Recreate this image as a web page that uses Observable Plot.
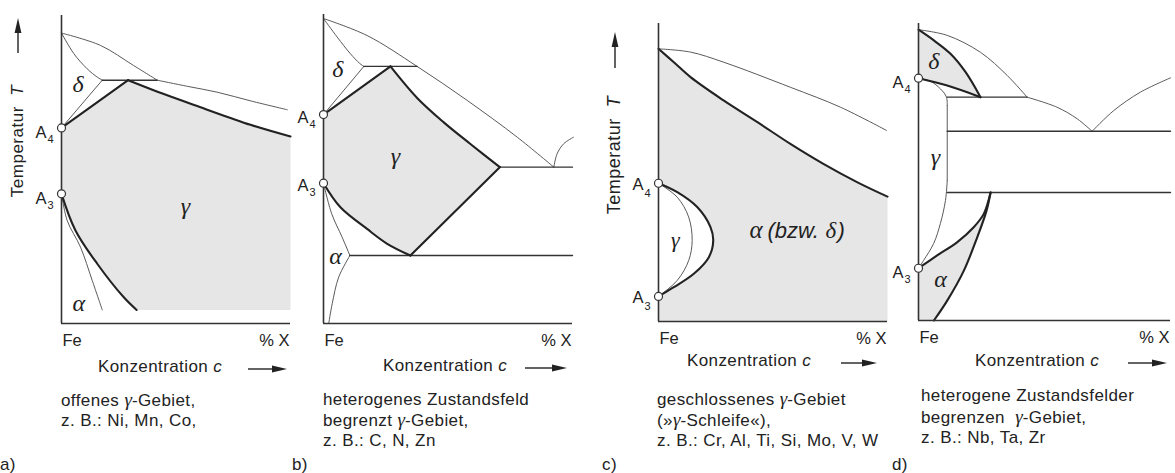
<!DOCTYPE html>
<html><head><meta charset="utf-8">
<script src="https://cdn.jsdelivr.net/npm/d3@7"></script>
<script src="https://cdn.jsdelivr.net/npm/@observablehq/plot@0.6"></script>
<style>
body{margin:0;background:#fff;}
#fig{position:relative;width:1175px;height:473px;overflow:hidden;font-family:"Liberation Sans",Arial,sans-serif;color:#222;}
.t{position:absolute;font-size:17px;line-height:20px;white-space:nowrap;letter-spacing:0.4px;}
.g{font-family:"Liberation Serif",serif;font-style:italic;font-size:19px;letter-spacing:0;}
.i{font-style:italic;}
.ylab{position:absolute;font-size:17px;line-height:20px;white-space:nowrap;letter-spacing:0.5px;transform:translate(-50%,-50%) rotate(-90deg);}
svg.arr{position:absolute;overflow:visible;}
</style></head><body>
<div id="fig">
  <div class="ylab" style="left:18px;top:141px">Temperatur&nbsp; <span class="i">T</span></div>
  <div class="ylab" style="left:614px;top:155px;font-size:18px">Temperatur&nbsp; <span class="i">T</span></div>

  <div class="t" style="left:98px;top:357px">Konzentration&nbsp;<span class="i">c</span></div>
  <div class="t" style="left:383px;top:356px">Konzentration&nbsp;<span class="i">c</span></div>
  <div class="t" style="left:687px;top:351px">Konzentration&nbsp;<span class="i">c</span></div>
  <div class="t" style="left:975px;top:351px">Konzentration&nbsp;<span class="i">c</span></div>

  <div class="t" style="left:61px;top:390px">offenes <span class="g">γ</span>-Gebiet,<br>z. B.: Ni, Mn, Co,</div>
  <div class="t" style="left:323px;top:390px">heterogenes Zustandsfeld<br>begrenzt <span class="g">γ</span>-Gebiet,<br>z. B.: C, N, Zn</div>
  <div class="t" style="left:657px;top:389px">geschlossenes <span class="g">γ</span>-Gebiet<br>(»<span class="g">γ</span>-Schleife«),<br>z. B.: Cr, Al, Ti, Si, Mo, V, W</div>
  <div class="t" style="left:921px;top:386px;line-height:20.5px">heterogene Zustandsfelder<br>begrenzen&nbsp; <span class="g">γ</span>-Gebiet,<br>z. B.: Nb, Ta, Zr</div>

  <div class="t" style="left:0px;top:455px">a)</div>
  <div class="t" style="left:292px;top:455px">b)</div>
  <div class="t" style="left:602px;top:455px">c)</div>
  <div class="t" style="left:892px;top:455px">d)</div>
</div>
<script>
// ---- Data: c = concentration (% of axis), T = temperature (% of axis) ----
// Panel a) offenes gamma-Gebiet
const aLiquidusHigh = [[0,94.3],[17,90.3],[31.4,83.8],[41.8,79]];
const aLiquidusLow  = [[41.8,79],[55,77],[68,75.1],[83,72.2],[98.6,69.4]];
const aDeltaSolidus = [[0,94.3],[5.4,87.6],[11.2,82.7],[15.6,80],[17.8,79]];
const aPeritectic   = [[17.8,79],[41.8,79]];
const aDeltaGamma   = [[0,63.5],[17.8,79]];
const aGammaTop     = [[0,63.5],[29.1,79]];
const aGammaSolidus = [[29.1,79],[45,74.4],[60.7,70.2],[82.5,64.5],[100,60.7]];
const aGammaAlpha   = [[0,42.1],[6.1,30.2],[15.6,19.4],[27.2,8.5],[32.8,4.4]];
const aAlphaGamma   = [[0,42.1],[2.5,33.4],[8.3,24.8],[13.4,14],[17.8,4.4]];
const aPoints = [{c:0,T:63.5,n:"4"},{c:0,T:42.1,n:"3"}];
const aGreek  = [{s:"δ",c:7.2,T:75.1},{s:"γ",c:54.1,T:35.7},{s:"α",c:7.6,T:4.2}];

// Panel b) heterogenes Zustandsfeld begrenzt gamma-Gebiet
const bLiquidus      = [[0,98.7],[17.5,93.2],[37.6,83.2],[57.7,72.2],[77.8,60.3],[92.5,50.6]];
const bLiquidusRight = [[92.5,50.6],[93.8,54.9],[96.5,58.2],[100.4,60.3]];
const bDeltaSolidus  = [[0,98.7],[5.5,92.7],[10.8,87.3],[14.5,84.2],[16.2,83.2]];
const bPeritectic    = [[16.2,83.2],[37.6,83.2]];
const bDeltaGamma    = [[0,67.6],[16.2,83.2]];
const bGammaTop      = [[0,67.6],[26.9,83.2]];
const bGammaUpper    = [[26.9,83.2],[37.6,73],[48.3,65.1],[59,58.1],[70.8,50.6]];
const bEutectic      = [[70.8,50.6],[100,50.6]];
const bGammaLower    = [[70.8,50.6],[34.9,22]];
const bGammaAlpha    = [[0,45.4],[6.8,37.6],[17.5,30.6],[25.6,25.8],[34.9,22]];
const bEutectoid     = [[10.6,22],[100,22]];
const bAlphaGamma    = [[0,45.4],[3.3,35.5],[7.5,27.9],[10.6,22]];
const bAlphaSolvus   = [[10.6,22],[6.1,15],[3.5,6.4],[2.1,0]];
const bPoints = [{c:0,T:67.6,n:"4"},{c:0,T:45.4,n:"3"}];
const bGreek  = [{s:"δ",c:5.8,T:79.7},{s:"γ",c:28.9,T:51.5},{s:"α",c:4.8,T:19.3}];

// Panel c) geschlossenes gamma-Gebiet
const cLiquidus  = [[0,91.5],[14,90.4],[28.5,87],[57.6,78.6],[79.5,71.9],[99.6,64.1]];
const cSolidus   = [[0,91.5],[6.7,87],[14,82],[28.4,74.2],[43.2,66.9],[57.6,59.6],[72,52.9],[86.9,46.7],[100,41.9]];
const cLoopOuter = [[0,46.4],[8.2,43.4],[16.9,38.4],[22.7,31.7],[23.9,27.2],[22,21.6],[15.4,16],[6.7,11.5],[0,8.4]];
const cLoopInner = [[0,46.4],[8.2,41.7],[13.2,35],[14.7,27.2],[13.2,20.5],[8.2,13.8],[0,8.4]];
const cPoints = [{c:0,T:46.4,n:"4"},{c:0,T:8.4,n:"3"}];
const cGreek  = [{s:"γ",c:7.4,T:25}];
const cAlphaLabel = [{c:39.7,T:27.9}];

// Panel d) heterogene Zustandsfelder begrenzen gamma-Gebiet
const dLiquidus1   = [[0,97.9],[11.4,96],[24.6,90.3],[35.2,82.5],[43.1,75.2]];
const dLiquidus2   = [[43.1,75.2],[55,71.8],[63,67.9],[68.9,63.7]];
const dLiquidus3   = [[68.9,63.7],[77.5,70.7],[88.1,76.9],[100,81.7]];
const dDeltaOuter  = [[0,97.9],[6.1,94.3],[12.7,89.8],[18.7,83.6],[24.6,75.2]];
const dDeltaInner  = [[0,81.6],[11.4,79.1],[24.6,75.2]];
const dPeritectic  = [[11.4,75.2],[43.1,75.2]];
const dGammaUpper  = [[0,81.6],[4.8,80.5],[8.7,78],[11.1,75.2],[11.4,72.4]];
const dGammaSide   = [[11.4,72.4],[11.4,47]];
const dGammaLower  = [[11.4,47],[10.7,40.4],[8.7,32.7],[6,25.9],[2,20.2],[0,17.6]];
const dEutectic    = [[11.4,63.7],[100,63.7]];
const dEutectoid   = [[11.4,43.1],[100,43.1]];
const dAlphaInner  = [[0,17.6],[7.4,21.9],[15.4,26.4],[21.9,31.4],[25.9,35.9],[28.6,43.1]];
const dAlphaOuter  = [[28.6,43.1],[27,37],[23.3,28],[18,16.8],[11.4,6.7],[6.1,0]];
const dPoints = [{c:0,T:81.6,n:"4"},{c:0,T:17.6,n:"3"}];
const dGreek  = [{s:"δ",c:6.1,T:84.7},{s:"γ",c:6.7,T:52.2},{s:"α",c:8.7,T:11.2}];

// ---- helpers ----
const X = d => d[0], Y = d => d[1];
const last = a => a[a.length - 1];
const rev = a => a.slice().reverse();
const INK = "#222", THIN = "#5a5a5a", GRAY = "#e6e6e6";
const thick = p => Plot.line(p, {x: X, y: Y, stroke: INK, strokeWidth: 2.1, curve: "catmull-rom"});
const thin = p => Plot.line(p, {x: X, y: Y, stroke: THIN, strokeWidth: 1, curve: "catmull-rom"});
const level = p => Plot.line(p, {x: X, y: Y, stroke: "#333", strokeWidth: 1.4});
const area = (color, ...segs) => Plot.line(segs.flat(), {x: X, y: Y, fill: color, stroke: "none", curve: "catmull-rom"});
const seg = (p, q) => [p, q];
const frame = () => [
  Plot.ruleX([0], {y1: 0, y2: 100, stroke: "#333", strokeWidth: 1.6}),
  Plot.ruleY([0], {x1: 0, x2: 100, stroke: "#333", strokeWidth: 1.6})
];
const points = (pts, aDy = 10, sDy = 15) => [
  Plot.dot(pts, {x: "c", y: "T", r: 4, fill: "white", stroke: "#333", strokeWidth: 1.2}),
  Plot.text(pts, {x: "c", y: "T", text: () => "A", textAnchor: "end", lineAnchor: "bottom", dx: -15, dy: aDy, fontSize: 16.5, fill: INK}),
  Plot.text(pts, {x: "c", y: "T", text: "n", textAnchor: "start", lineAnchor: "bottom", dx: -14, dy: sDy, fontSize: 11, fill: INK})
];
const greek = (g, size = 24) => Plot.text(g, {x: "c", y: "T", text: "s", textAnchor: "middle", lineAnchor: "bottom",
  fontFamily: "Liberation Serif, serif", fontStyle: "italic", fontSize: size, fill: INK});
const ends = () => [
  Plot.text(["Fe"], {x: () => 0, y: () => 0, text: d => d, textAnchor: "start", lineAnchor: "bottom", dy: 22, dx: 1, fontSize: 16.5, fill: INK}),
  Plot.text(["% X"], {x: () => 100, y: () => 0, text: d => d, textAnchor: "end", lineAnchor: "bottom", dy: 22, dx: -1, fontSize: 16.5, fill: INK})
];

const fig = document.getElementById("fig");
function panel(box, marks) {
  const mL = 48, mR = 6, mT = 10, mB = 32;
  const svg = Plot.plot({
    width: box.x1 - box.x0 + mL + mR,
    height: box.y1 - box.y0 + mT + mB,
    marginLeft: mL, marginRight: mR, marginTop: mT, marginBottom: mB,
    x: {domain: [0, 100], axis: null},
    y: {domain: [0, 100], axis: null},
    style: {background: "transparent", maxWidth: "none", overflow: "visible", fontFamily: "Liberation Sans, Arial, sans-serif"},
    marks
  });
  svg.style.position = "absolute";
  svg.style.left = (box.x0 - mL) + "px";
  svg.style.top = (box.y0 - mT) + "px";
  fig.appendChild(svg);
}
function arrow(x1, y1, x2, y2) {
  const ns = "http://www.w3.org/2000/svg";
  const s = document.createElementNS(ns, "svg");
  s.setAttribute("class", "arr");
  s.setAttribute("width", 1); s.setAttribute("height", 1);
  s.style.left = "0px"; s.style.top = "0px";
  const len = Math.hypot(x2 - x1, y2 - y1), ang = Math.atan2(y2 - y1, x2 - x1) * 180 / Math.PI;
  const g = document.createElementNS(ns, "g");
  g.setAttribute("transform", `translate(${x1},${y1}) rotate(${ang})`);
  g.innerHTML = `<line x1="0" y1="0" x2="${len - 10}" y2="0" stroke="#222" stroke-width="1.4"/>` +
    `<polygon points="${len - 15},-3.4 ${len},0 ${len - 15},3.4" fill="#222"/>`;
  s.appendChild(g);
  fig.appendChild(s);
}

// Panel a
panel({x0: 61, x1: 290, y0: 15, y1: 323}, [
  area(GRAY, aGammaTop, aGammaSolidus, seg(last(aGammaSolidus), [100, last(aGammaAlpha)[1]]),
       seg([100, last(aGammaAlpha)[1]], last(aGammaAlpha)), rev(aGammaAlpha), seg(aGammaAlpha[0], aGammaTop[0])),
  thin(aLiquidusHigh), thin(aLiquidusLow), thin(aDeltaSolidus), thin(aDeltaGamma), thin(aAlphaGamma),
  level(aPeritectic),
  thick(aGammaTop), thick(aGammaSolidus), thick(aGammaAlpha),
  ...frame(), ...points(aPoints), greek(aGreek), ...ends()
]);

// Panel b
panel({x0: 323, x1: 572, y0: 14, y1: 323}, [
  area(GRAY, bGammaTop, bGammaUpper, bGammaLower, rev(bGammaAlpha), seg(bGammaAlpha[0], bGammaTop[0])),
  thin(bLiquidus), thin(bLiquidusRight), thin(bDeltaSolidus), thin(bDeltaGamma), thin(bAlphaGamma), thin(bAlphaSolvus),
  level(bPeritectic), level(bEutectic), level(bEutectoid),
  thick(bGammaTop), thick(bGammaUpper), thick(bGammaLower), thick(bGammaAlpha),
  ...frame(), ...points(bPoints, 8, 13), greek(bGreek), ...ends()
]);

// Panel c
panel({x0: 658, x1: 887, y0: 23, y1: 321}, [
  area(GRAY, cSolidus, seg(last(cSolidus), [100, 0]), seg([100, 0], [0, 0]), seg([0, 0], cSolidus[0])),
  area("white", cLoopOuter, seg(last(cLoopOuter), cLoopOuter[0])),
  thin(cLiquidus), thin(cLoopInner),
  thick(cSolidus), thick(cLoopOuter),
  ...frame(), ...points(cPoints, 7, 14), greek(cGreek, 22),
  Plot.text(cAlphaLabel, {x: "c", y: "T", text: () => "α", textAnchor: "start", lineAnchor: "bottom", fontFamily: "Liberation Serif, serif", fontStyle: "italic", fontSize: 25, fill: INK}),
  Plot.text(cAlphaLabel, {x: "c", y: "T", text: () => "(bzw.", textAnchor: "start", lineAnchor: "bottom", dx: 18, fontFamily: "Liberation Sans, Arial, sans-serif", fontStyle: "italic", fontSize: 22, fill: INK}),
  Plot.text(cAlphaLabel, {x: "c", y: "T", text: () => "δ", textAnchor: "start", lineAnchor: "bottom", dx: 76, fontFamily: "Liberation Serif, serif", fontStyle: "italic", fontSize: 23, fill: INK}),
  Plot.text(cAlphaLabel, {x: "c", y: "T", text: () => ")", textAnchor: "start", lineAnchor: "bottom", dx: 88, fontFamily: "Liberation Sans, Arial, sans-serif", fontStyle: "italic", fontSize: 22, fill: INK}),
  ...ends()
]);

// Panel d
panel({x0: 918, x1: 1170, y0: 23, y1: 320}, [
  area(GRAY, seg(dDeltaInner[0], dDeltaOuter[0]), dDeltaOuter, rev(dDeltaInner)),
  area(GRAY, dAlphaInner, dAlphaOuter, seg(last(dAlphaOuter), [0, 0]), seg([0, 0], dAlphaInner[0])),
  thin(dLiquidus1), thin(dLiquidus2), thin(dLiquidus3),
  thin(dGammaUpper), thin(dGammaSide), thin(dGammaLower),
  level(dPeritectic), level(dEutectic), level(dEutectoid),
  thick(dDeltaOuter), thick(dDeltaInner), thick(dAlphaInner), thick(dAlphaOuter),
  ...frame(), ...points(dPoints), greek(dGreek), ...ends()
]);

// direction arrows
arrow(248, 369, 287, 369);
arrow(525, 368, 567, 368);
arrow(841, 363, 877, 363);
arrow(1128, 363, 1167, 363);
arrow(18, 53, 18, 18);
arrow(615, 68, 615, 32);
</script>
</body></html>
